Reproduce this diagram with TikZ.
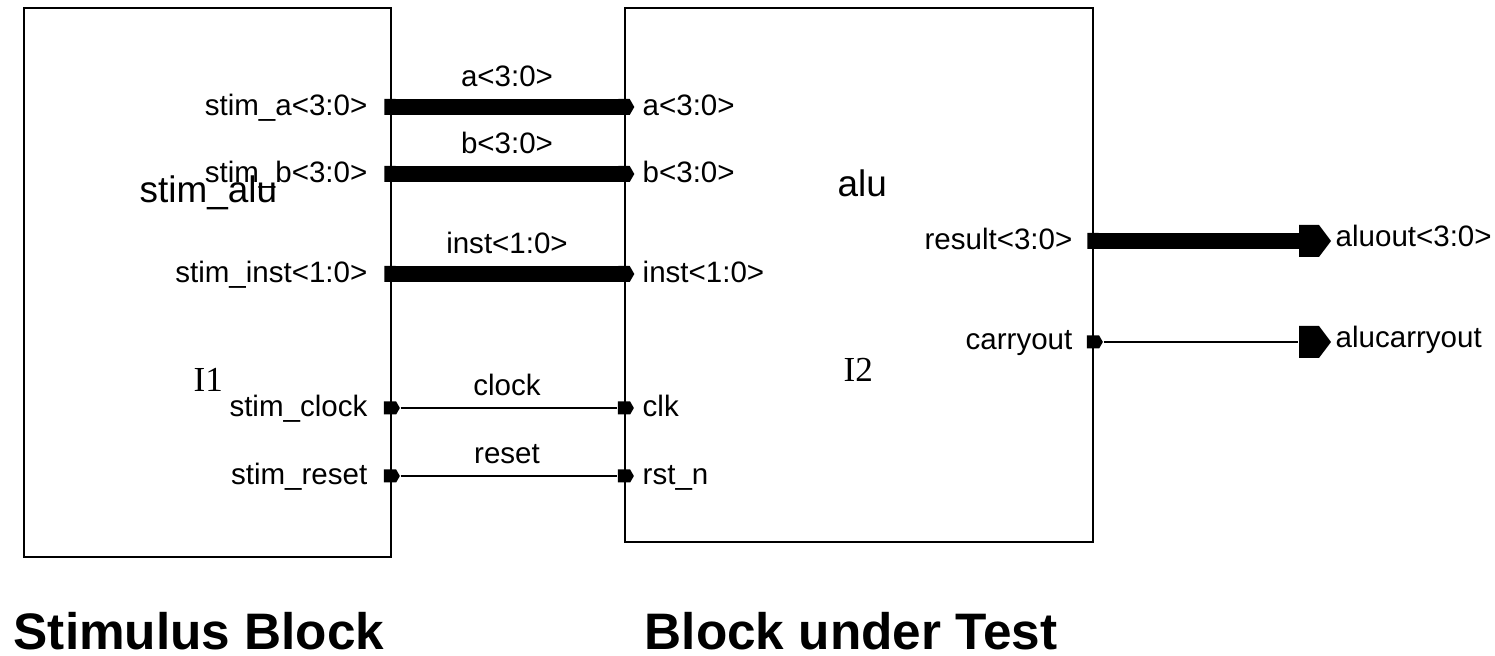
\documentclass[tikz,border=0pt]{standalone}
\usepackage{fontspec}
\setmainfont{Liberation Sans}
\newfontfamily\instfont{Liberation Serif}
\usetikzlibrary{shapes.symbols}
\begin{document}
\begin{tikzpicture}[
  blk/.style={draw, rectangle, line width=0.6pt, inner sep=0pt},
  port/.style={signal, signal to=east, fill=black, draw=none, inner sep=0pt, minimum width=0.16cm, minimum height=0.13cm, signal pointer angle=120},
  busport/.style={port, minimum height=0.16cm},
  outterm/.style={signal, signal to=east, fill=black, draw=none, inner sep=0pt, minimum width=0.32cm, minimum height=0.32cm, signal pointer angle=106},
  bus/.style={line width=0.16cm},
  wire/.style={line width=0.6pt},
  lbl/.style={font=\fontsize{8.4}{10}\selectfont, inner sep=0pt},
  cell/.style={font=\fontsize{10.5}{12}\selectfont, inner sep=0pt},
  inst/.style={font=\instfont\fontsize{10}{12}\selectfont, inner sep=0pt},
  title/.style={font=\bfseries\fontsize{14.6}{17}\selectfont, inner sep=0pt}
]
\useasboundingbox (0,0) rectangle (14.95,6.56);
\node[blk, minimum width=3.67cm, minimum height=5.49cm] (stim) at (2.075, 3.735) {};
\node[blk, minimum width=4.68cm, minimum height=5.34cm] (dut) at (8.59, 3.81) {};
\node[cell, anchor=base west] (stimname) at (1.39, 4.53) {stim\_alu};
\node[inst, anchor=base west] (i1) at (1.93, 2.64) {I1};
\node[cell, anchor=base west] (aluname) at (8.37, 4.59) {alu};
\node[inst, anchor=base west] (i2) at (8.43, 2.74) {I2};
\node[busport] (sa) at (3.90, 5.49) {};
\node[busport] (sb) at (3.90, 4.82) {};
\node[busport] (si) at (3.90, 3.82) {};
\node[port] (sc) at (3.90, 2.48) {};
\node[port] (sr) at (3.90, 1.80) {};
\node[busport] (da) at (6.24, 5.49) {};
\node[busport] (db) at (6.24, 4.82) {};
\node[busport] (di) at (6.24, 3.82) {};
\node[port] (dc) at (6.24, 2.48) {};
\node[port] (dr) at (6.24, 1.80) {};
\node[busport] (dres) at (10.93, 4.15) {};
\node[port] (dco) at (10.93, 3.14) {};
\node[outterm] (oout) at (13.09, 4.15) {};
\node[outterm] (ocarry) at (13.09, 3.14) {};
\draw[bus] (sa.center) -- (da.center);
\draw[bus] (sb.center) -- (db.center);
\draw[bus] (si.center) -- (di.center);
\draw[wire] (sc) -- (dc);
\draw[wire] (sr) -- (dr);
\draw[bus] (dres.center) -- (oout.center);
\draw[wire] (dco) -- (ocarry);
\node[lbl, anchor=base east] (lsa) at (3.68, 5.40) {stim\_a<3:0>};
\node[lbl, anchor=base east] (lsb) at (3.68, 4.73) {stim\_b<3:0>};
\node[lbl, anchor=base east] (lsi) at (3.68, 3.73) {stim\_inst<1:0>};
\node[lbl, anchor=base east] (lsc) at (3.68, 2.39) {stim\_clock};
\node[lbl, anchor=base east] (lsr) at (3.68, 1.71) {stim\_reset};
\node[lbl, anchor=base west] (lda) at (6.42, 5.40) {a<3:0>};
\node[lbl, anchor=base west] (ldb) at (6.42, 4.73) {b<3:0>};
\node[lbl, anchor=base west] (ldi) at (6.42, 3.73) {inst<1:0>};
\node[lbl, anchor=base west] (ldc) at (6.42, 2.39) {clk};
\node[lbl, anchor=base west] (ldr) at (6.42, 1.71) {rst\_n};
\node[lbl, anchor=base] (na) at (5.07, 5.69) {a<3:0>};
\node[lbl, anchor=base] (nb) at (5.07, 5.02) {b<3:0>};
\node[lbl, anchor=base] (ni) at (5.07, 4.02) {inst<1:0>};
\node[lbl, anchor=base] (nc) at (5.07, 2.60) {clock};
\node[lbl, anchor=base] (nr) at (5.07, 1.92) {reset};
\node[lbl, anchor=base east] (lres) at (10.73, 4.06) {result<3:0>};
\node[lbl, anchor=base east] (lco) at (10.73, 3.06) {carryout};
\node[lbl, anchor=base west] (lout) at (13.35, 4.09) {aluout<3:0>};
\node[lbl, anchor=base west] (lcarry) at (13.35, 3.08) {alucarryout};
\node[title, anchor=base west] (tstim) at (0.13, 0.06) {Stimulus Block};
\node[title, anchor=base west] (tdut) at (6.44, 0.06) {Block under Test};
\end{tikzpicture}
\end{document}
